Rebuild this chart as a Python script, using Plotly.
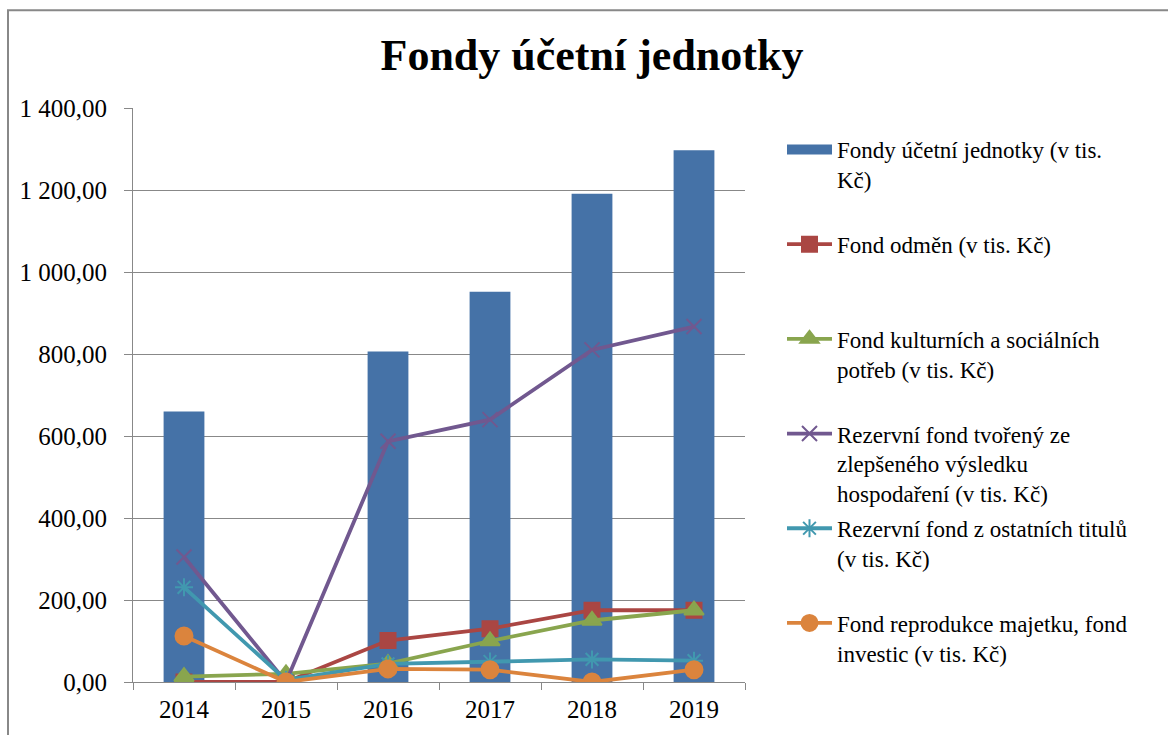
import plotly.graph_objects as go

years = ["2014", "2015", "2016", "2017", "2018", "2019"]
fondy_jednotky = [660, 0, 806, 952, 1191, 1297]
fond_odmen = [0, 0, 101, 130, 175, 175]
fond_fksp = [13, 20, 45, 100, 150, 175]
rezerv_zlepseny = [305, 0, 587, 640, 810, 867]
rezerv_ostatni = [231, 5, 44, 50, 55, 52]
fond_reprodukce = [112, 0, 32, 30, 0, 30]

y_tick_vals = [0, 200, 400, 600, 800, 1000, 1200, 1400]
y_tick_text = ["0,00", "200,00", "400,00", "600,00", "800,00", "1 000,00", "1 200,00", "1 400,00"]

names = [
    "Fondy účetní jednotky (v tis.<br>Kč)<br> ",
    "Fond odměn (v tis. Kč)<br> <br> ",
    "Fond kulturních a sociálních<br>potřeb (v tis. Kč)<br> ",
    "Rezervní fond tvořený ze<br>zlepšeného výsledku<br>hospodaření (v tis. Kč)",
    "Rezervní fond z ostatních titulů<br>(v tis. Kč)<br> ",
    "Fond reprodukce majetku, fond<br>investic (v tis. Kč)<br> ",
]

serif = "Liberation Serif"

fig = go.Figure()
fig.add_trace(go.Bar(x=years, y=fondy_jednotky, name=names[0], showlegend=False,
                     marker=dict(color="#4572A7", line=dict(width=0)), legendgroup="g0"))
# legend entry for the bar series (wide rectangle symbol as in the original)
fig.add_trace(go.Scatter(x=[None], y=[None], name=names[0], mode="lines",
                         line=dict(color="#4572A7", width=10), legendgroup="g0"))

line_specs = [
    (fond_odmen, names[1], "#AA4643", "square", 15, "g1"),
    (fond_fksp, names[2], "#89A54E", "triangle-up", 17, "g2"),
    (rezerv_zlepseny, names[3], "#71588F", "x-thin-open", 15, "g3"),
    (rezerv_ostatni, names[4], "#4198AF", "asterisk-open", 15, "g4"),
    (fond_reprodukce, names[5], "#DB843D", "circle", 17, "g5"),
]
for vals, nm, col, sym, sz, grp in line_specs:
    fig.add_trace(go.Scatter(
        x=years, y=vals, name=nm, mode="lines+markers",
        line=dict(color=col, width=3.8),
        marker=dict(symbol=sym, size=sz, color=col, line=dict(color=col, width=2)),
        legendgroup=grp,
    ))

fig.update_layout(
    width=1168, height=735,
    paper_bgcolor="white", plot_bgcolor="white",
    margin=dict(l=133, r=423, t=108, b=51),
    bargap=0.6,
    title=dict(text="<b>Fondy účetní jednotky</b>", x=592 / 1168, xref="container",
               y=1 - 55 / 735, yref="container", xanchor="center", yanchor="middle",
               font=dict(family=serif, size=44, color="black")),
    font=dict(family=serif, size=23, color="black"),
    legend=dict(x=782 / 1168, xref="container", y=1 - 128 / 735, yref="container",
                xanchor="left", yanchor="top", valign="top", tracegroupgap=2,
                maxheight=700,
                font=dict(family=serif, size=23, color="black"),
                itemwidth=45, bgcolor="rgba(0,0,0,0)"),
    showlegend=True,
    shapes=[dict(type="rect", xref="paper", yref="paper",
                 x0=(8 - 133) / 612, x1=(1175 - 133) / 612,
                 y0=-(745 - 684) / 576, y1=1 + (108 - 10) / 576,
                 line=dict(color="#888888", width=2), layer="below")],
)

fig.update_xaxes(type="category", showgrid=False, showline=True, linecolor="#888888", linewidth=1,
                 ticks="outside", tickson="boundaries", ticklen=7, tickcolor="#888888",
                 ticklabelstandoff=5,
                 tickfont=dict(family=serif, size=25, color="black"))
fig.update_yaxes(range=[0, 1400], tickvals=y_tick_vals, ticktext=y_tick_text,
                 showgrid=True, gridcolor="#888888", gridwidth=1,
                 showline=True, linecolor="#888888", linewidth=1,
                 ticks="outside", ticklen=8, tickcolor="#888888", zeroline=False,
                 ticklabelstandoff=12,
                 tickfont=dict(family=serif, size=25, color="black"))

fig.write_html("out.html", post_script="document.body.style.margin='0';",
               config={"displayModeBar": False})
